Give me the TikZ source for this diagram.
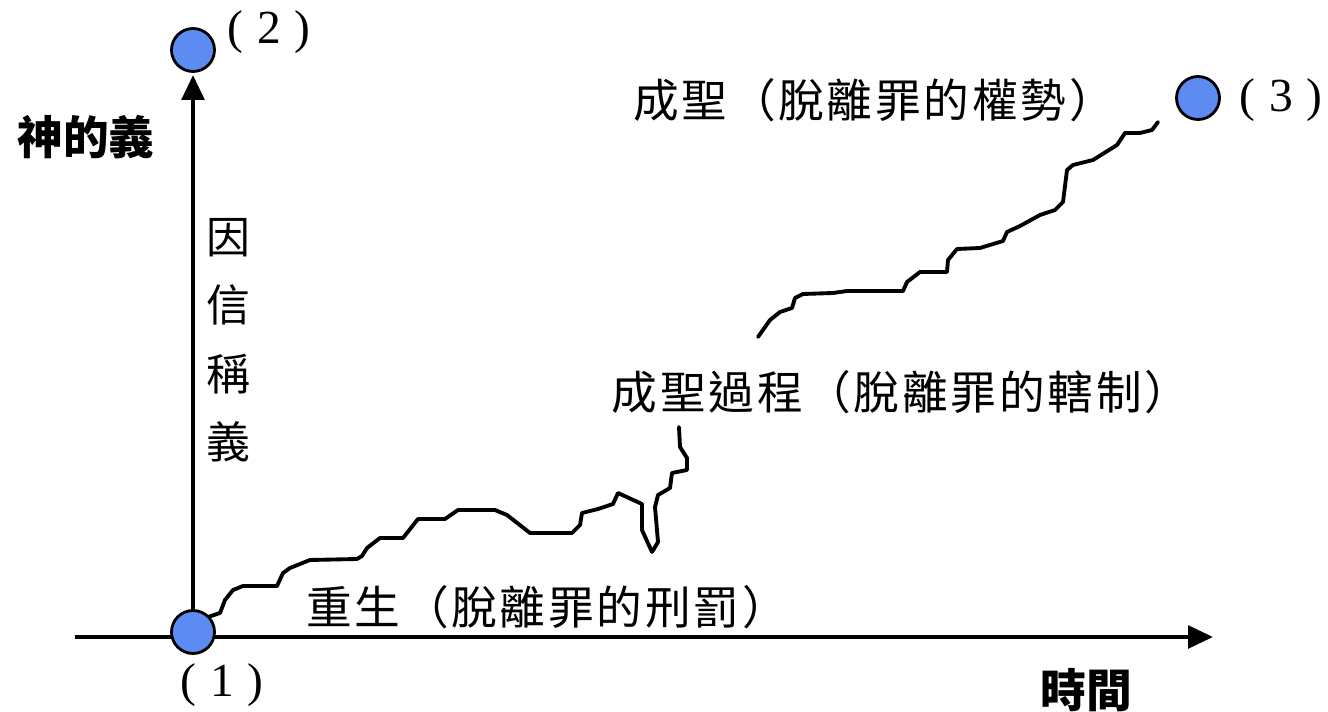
\documentclass[tikz,border=0pt]{standalone}
\usepackage{fontspec}
\setmainfont{Liberation Serif}
\newfontfamily\cjk{Noto Sans CJK TC}
\usetikzlibrary{arrows.meta}
\definecolor{dotblue}{RGB}{92,140,242}

\tikzset{
  axisline/.style={line width=2.4pt, -{Triangle[length=0.5cm,width=0.45cm]}},
  walkline/.style={line width=2.2pt, line join=round, line cap=round},
  dot/.style={circle, draw=black, line width=1.6pt, fill=dotblue,
    minimum size=0.86cm, inner sep=0pt},
  txt/.style={font=\fontsize{26}{30}\selectfont\cjk\addfontfeatures{LetterSpace=6}, inner sep=0pt},
  bigtxt/.style={font=\fontsize{26}{30}\selectfont\cjk\bfseries, inner sep=0pt},
  num/.style={font=\fontsize{27}{30}\selectfont, inner sep=0pt}
}
\newcommand{\numlbl}[1]{(\hspace{8pt}#1\hspace{8pt})}

\begin{document}
\begin{tikzpicture}[x=0.02cm, y=-0.02cm]
        \useasboundingbox (0,0) rectangle (1328,712);
        % axes
        \coordinate (xstart) at (75,637);
        \coordinate (xend)   at (1213,637);
        \coordinate (origin) at (193,637);
        \coordinate (yend)   at (193,75);
        \draw[axisline] (xstart) -- (xend);
        \draw[axisline] (origin) -- (yend);
        % first stretch of the walk
        \draw[walkline] (208,617) -- (220,613) -- (225,600) -- (233,590) -- (243,586)
          -- (277,586) -- (283,573) -- (290,568) -- (310,560) -- (357,559)
          -- (362,556) -- (367,548) -- (380,538) -- (403,538) -- (418,519)
          -- (445,519) -- (458,510) -- (495,510) -- (507,515) -- (530,533)
          -- (572,533) -- (580,525) -- (582,513) -- (598,509) -- (613,504)
          -- (618,493) -- (642,504) -- (642,530) -- (652,552) -- (658,542)
          -- (655,507) -- (658,495) -- (670,488) -- (672,473) -- (687,470)
          -- (687,458) -- (680,447) -- (679,427);
        % second stretch
        \draw[walkline] (758,337) -- (770,320) -- (780,312) -- (792,308) -- (795,298)
          -- (803,294) -- (833,293) -- (847,291) -- (903,291) -- (907,282)
          -- (920,272) -- (947,272) -- (948,260) -- (957,249) -- (980,248)
          -- (1003,241) -- (1007,232) -- (1020,226) -- (1040,215) -- (1055,210)
          -- (1063,202) -- (1067,170) -- (1073,165) -- (1093,160) -- (1117,145)
          -- (1125,133) -- (1140,133) -- (1152,130) -- (1158,122);
        % points
        \node[dot] (p1) at (193,632) {};
        \node[dot] (p2) at (193,50) {};
        \node[dot] (p3) at (1198,98) {};
        \node[num] (n1) at (222,685) {\numlbl{1}};
        \node[num] (n2) at (269,32) {\numlbl{2}};
        \node[num] (n3) at (1281,100) {\numlbl{3}};
        % labels
        \node[bigtxt] (ylabel) at (86,137) {神的義};
        \node[bigtxt] (xlabel) at (1086,690) {時間};
        \node[txt, align=center, font=\fontsize{25}{39}\selectfont\cjk] (faith) at (228,340) {因\\信\\稱\\義};
        \node[txt] (rebirth) at (547,607) {重生（脫離罪的刑罰）};
        \node[txt] (process) at (901,392) {成聖過程（脫離罪的轄制）};
        \node[txt] (holy) at (874,100) {成聖（脫離罪的權勢）};
      \end{tikzpicture}
\end{document}
